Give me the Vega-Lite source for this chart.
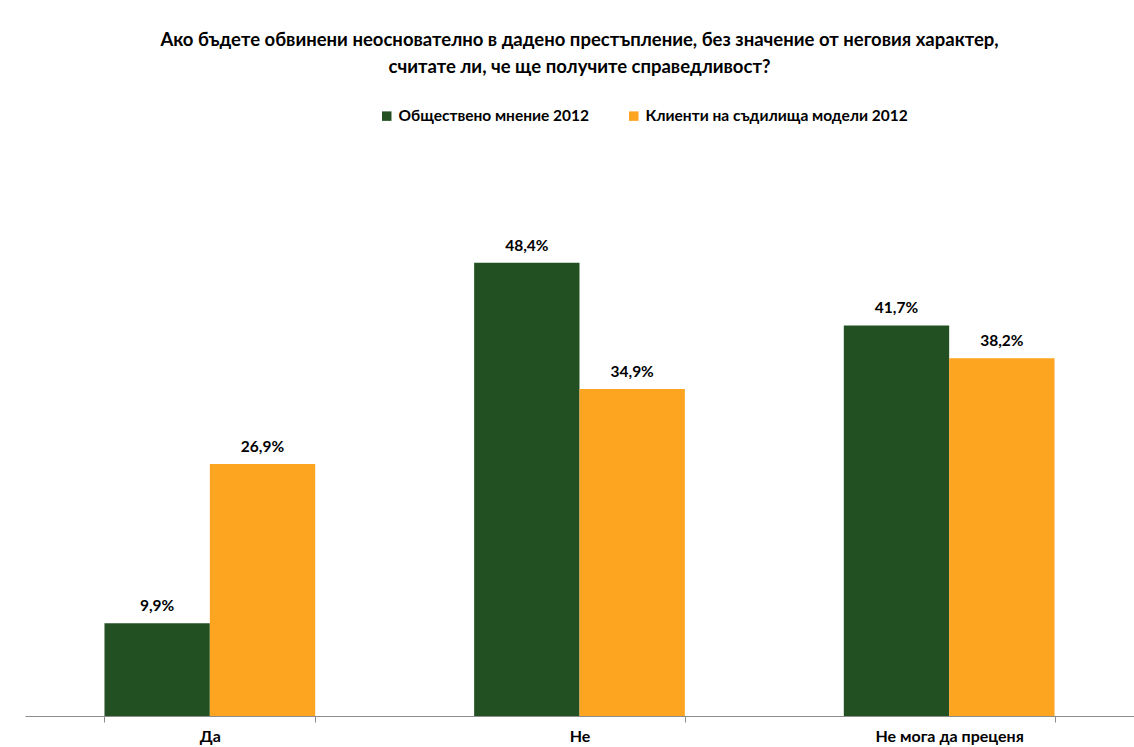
{
  "$schema": "https://vega.github.io/schema/vega-lite/v6.json",
  "width": 1109,
  "height": 562,
  "autosize": {"type": "none"},
  "padding": {"left": 25, "top": 154, "right": 0, "bottom": 31},
  "background": "white",
  "config": {
    "locale": {"number": {"decimal": ",", "thousands": " ", "grouping": [3], "currency": ["", " лв."]}},
    "view": {"stroke": null},
    "font": "Lato"
  },
  "title": {
    "text": ["Ако бъдете обвинени неоснователно в дадено престъпление, без значение от неговия характер,", "считате ли, че ще получите справедливост?"],
    "font": "Lato",
    "fontSize": 18.5,
    "fontWeight": "bold",
    "color": "#000000",
    "anchor": "middle",
    "lineHeight": 27,
    "offset": 32
  },
  "data": {
    "values": [
      {"answer": "Да", "series": "Обществено мнение 2012", "value": 0.099},
      {"answer": "Да", "series": "Клиенти на съдилища модели 2012", "value": 0.269},
      {"answer": "Не", "series": "Обществено мнение 2012", "value": 0.484},
      {"answer": "Не", "series": "Клиенти на съдилища модели 2012", "value": 0.349},
      {"answer": "Не мога да преценя", "series": "Обществено мнение 2012", "value": 0.417},
      {"answer": "Не мога да преценя", "series": "Клиенти на съдилища модели 2012", "value": 0.382}
    ]
  },
  "encoding": {
    "x": {
      "field": "answer",
      "type": "nominal",
      "sort": ["Да", "Не", "Не мога да преценя"],
      "scale": {"paddingInner": 0.43, "paddingOuter": 0.215},
      "axis": {
        "title": null,
        "labelAngle": 0,
        "labelFont": "Lato",
        "labelFontSize": 16,
        "labelFontWeight": "bold",
        "labelColor": "#000000",
        "labelPadding": 6,
        "domainColor": "#8c8c8c",
        "tickColor": "#8c8c8c",
        "ticks": true,
        "tickSize": 6,
        "tickBand": "extent"
      }
    },
    "xOffset": {
      "field": "series",
      "type": "nominal",
      "sort": ["Обществено мнение 2012", "Клиенти на съдилища модели 2012"]
    },
    "y": {
      "field": "value",
      "type": "quantitative",
      "scale": {"domain": [0, 0.6]},
      "axis": null
    }
  },
  "layer": [
    {
      "mark": {"type": "bar"},
      "encoding": {
        "color": {
          "field": "series",
          "type": "nominal",
          "scale": {
            "domain": ["Обществено мнение 2012", "Клиенти на съдилища модели 2012"],
            "range": ["#225023", "#FDA420"]
          },
          "legend": {
            "title": null,
            "orient": "none",
            "direction": "horizontal",
            "legendX": 354,
            "legendY": -46,
            "symbolType": "square",
            "symbolSize": 90,
            "symbolStrokeWidth": 0,
            "labelFont": "Lato",
            "labelFontSize": 15.5,
            "labelFontWeight": "bold",
            "labelColor": "#000000",
            "labelLimit": 400,
            "columnPadding": 36,
            "symbolOpacity": 1
          }
        }
      }
    },
    {
      "mark": {"type": "text", "baseline": "bottom", "dy": -9, "font": "Lato", "fontSize": 15.5, "fontWeight": "bold", "color": "#000000"},
      "encoding": {
        "text": {"field": "value", "type": "quantitative", "format": ".1%"}
      }
    }
  ]
}
